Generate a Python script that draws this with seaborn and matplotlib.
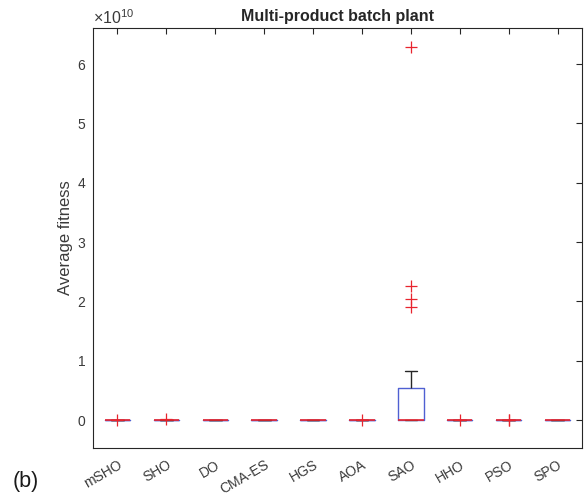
import matplotlib
matplotlib.use("Agg")
import matplotlib.pyplot as plt
import pandas as pd
import seaborn as sns
from matplotlib.ticker import ScalarFormatter, MultipleLocator

# Algorithm names in plotting order
algorithms = ["mSHO", "SHO", "DO", "CMA-ES", "HGS", "AOA", "SAO", "HHO", "PSO", "SPO"]

# Average fitness per independent run (multi-product batch plant problem)
mSHO = [53639, 53655, 53702, 53810, 54020, 54250, 54790, 55330, 56120, 2.8e6]
SHO = [53980, 54410, 55120, 56300, 58900, 61200, 64800, 69500, 75300, 1.5e8]
DO = [53645, 53700, 53800, 53950, 54100, 54300, 54600, 54950, 55400, 56000]
CMA_ES = [53639, 53641, 53644, 53650, 53660, 53675, 53690, 53710, 53740, 53780]
HGS = [53700, 54200, 55000, 56100, 57300, 58800, 60400, 62300, 64500, 67000]
AOA = [60200, 63100, 66500, 70800, 74200, 79500, 85100, 91800, 99300, 3.9e6]
SAO = [6.2e4, 8.5e4, 1.3e5, 2.4e5, 5.1e5, 9.8e5, 2.3e6, 6.7e6, 1.9e7, 4.4e7,
       1.1e8, 3.5e8, 9.2e8, 2.4e9, 4.4e9, 8.3e9, 1.91e10, 2.04e10, 2.26e10, 6.29e10]
HHO = [55400, 57800, 60100, 62900, 65800, 68200, 71900, 75400, 79800, 4.6e6]
PSO = [53900, 55100, 56800, 58300, 60500, 62700, 65400, 68800, 7.1e6, 9.4e6]
SPO = [53650, 53720, 53830, 53990, 54180, 54400, 54700, 55050, 55500, 56100]

runs = [mSHO, SHO, DO, CMA_ES, HGS, AOA, SAO, HHO, PSO, SPO]
df = pd.DataFrame(
    [(name, v) for name, vals in zip(algorithms, runs) for v in vals],
    columns=["Algorithm", "Average fitness"],
)

sns.set_theme(style="white")
plt.rcParams["font.family"] = ["Liberation Sans", "DejaVu Sans"]
plt.rcParams["mathtext.fontset"] = "custom"
plt.rcParams["mathtext.rm"] = "Liberation Sans"

AX_COLOR = "#262626"
TEXT_COLOR = "#3a3a3a"
BOX_BLUE = "#4f60d2"
RED = "#e8242e"

fig = plt.figure(figsize=(5.86, 4.96), dpi=100)
ax = fig.add_axes([0.1587, 0.0968, 0.8345, 0.8468])

sns.boxplot(
    data=df, x="Algorithm", y="Average fitness", order=algorithms, ax=ax,
    width=0.52, fill=False, whis=1.5, linewidth=1.0, color=BOX_BLUE,
    boxprops=dict(color=BOX_BLUE, linewidth=1.0),
    medianprops=dict(color=RED, linewidth=1.2, zorder=5),
    whiskerprops=dict(color=AX_COLOR, linewidth=1.0),
    capprops=dict(color=AX_COLOR, linewidth=1.0),
    flierprops=dict(marker="+", markeredgecolor=RED, markerfacecolor=RED,
                    markersize=8, markeredgewidth=0.9),
)

ax.set_xlim(-0.5, 9.5)
ax.set_ylim(-0.47e10, 6.61e10)
ax.yaxis.set_major_locator(MultipleLocator(1e10))
fmt = ScalarFormatter(useMathText=True)
fmt.set_powerlimits((0, 0))
ax.yaxis.set_major_formatter(fmt)
ax.yaxis.get_offset_text().set_fontsize(11.5)
ax.yaxis.get_offset_text().set_color(TEXT_COLOR)

ax.set_title("Multi-product batch plant", fontsize=11.5, fontweight="bold",
             color=AX_COLOR, pad=5)
ax.set_xlabel("")
ax.set_ylabel("Average fitness", fontsize=12, color=TEXT_COLOR, labelpad=3)

ax.tick_params(axis="both", direction="in", length=4.5, width=0.8,
               colors=AX_COLOR, labelcolor=TEXT_COLOR, labelsize=10,
               top=True, right=True)
ax.tick_params(axis="y", pad=5)
ax.tick_params(axis="x", pad=7)
for lab in ax.get_xticklabels():
    lab.set_rotation(30)
    lab.set_ha("right")
    lab.set_rotation_mode("anchor")

for spine in ax.spines.values():
    spine.set_color(AX_COLOR)
    spine.set_linewidth(0.8)

fig.text(13 / 586, 1 - 481 / 496, "(b)", fontsize=15.5, color="#1a1a1a",
         ha="left", va="center")

fig.savefig("out.png", dpi=100)
